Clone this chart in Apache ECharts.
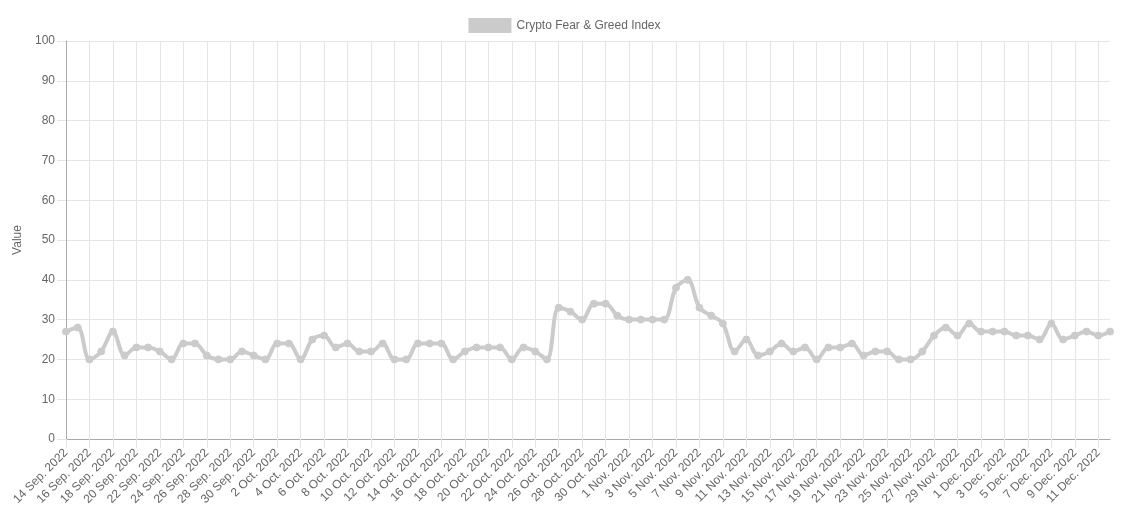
<!DOCTYPE html>
<html>
<head>
<meta charset="utf-8">
<script src="https://cdn.jsdelivr.net/npm/echarts@6/dist/echarts.min.js"></script>
<style>
  html, body { margin: 0; padding: 0; background: #fff; }
  #chart { width: 1129px; height: 521px; }
</style>
</head>
<body>
<div id="chart"></div>
<script>
// daily index values, 14 Sep. 2022 .. 12 Dec. 2022
var fearGreed = [
    27, 28, 20, 22, 27, 21, 23, 23, 22, 20,
    24, 24, 21, 20, 20, 22, 21, 20, 24, 24,
    20, 25, 26, 23, 24, 22, 22, 24, 20, 20,
    24, 24, 24, 20, 22, 23, 23, 23, 20, 23,
    22, 20, 33, 32, 30, 34, 34, 31, 30, 30,
    30, 30, 38, 40, 33, 31, 29, 22, 25, 21,
    22, 24, 22, 23, 20, 23, 23, 24, 21, 22,
    22, 20, 20, 22, 26, 28, 26, 29, 27, 27,
    27, 26, 26, 25, 29, 25, 26, 27, 26, 27
];
var monthNames = ['Jan.', 'Feb.', 'Mar.', 'Apr.', 'May', 'Jun.', 'Jul.', 'Aug.', 'Sep.', 'Oct.', 'Nov.', 'Dec.'];
var days = [];
var d = new Date(2022, 8, 14);
for (var i = 0; i < fearGreed.length; i++) {
    days.push(d.getDate() + ' ' + monthNames[d.getMonth()] + ' ' + d.getFullYear());
    d.setDate(d.getDate() + 1);
}
var lineColor = '#cbcbcb';
var textColor = '#666';
var fontName = 'Liberation Sans';

var chart = echarts.init(document.getElementById('chart'));
var option = {
    animation: false,
    textStyle: { fontFamily: fontName },
    legend: {
        top: 13,
        left: 'center',
        icon: 'rect',
        itemWidth: 43,
        itemHeight: 15,
        itemGap: 10,
        textStyle: { color: textColor, fontSize: 12, fontFamily: fontName },
        data: ['Crypto Fear & Greed Index']
    },
    grid: { left: 66, right: 19, top: 41, bottom: 82, containLabel: false },
    xAxis: {
        type: 'category',
        boundaryGap: false,
        data: days,
        axisLine: { lineStyle: { color: '#aaa' } },
        axisTick: { show: true, interval: 1, length: 9, lineStyle: { color: '#e5e5e5' } },
        axisLabel: {
            interval: 1,
            rotate: 45,
            margin: 12,
            color: textColor,
            fontSize: 12,
            fontFamily: fontName
        },
        splitLine: { show: true, interval: 1, lineStyle: { color: '#e5e5e5' } }
    },
    yAxis: {
        type: 'value',
        min: 0,
        max: 100,
        interval: 10,
        name: 'Value',
        nameLocation: 'middle',
        nameRotate: 90,
        nameGap: 42,
        nameTextStyle: { color: textColor, fontSize: 12, fontFamily: fontName },
        axisLine: { show: true, lineStyle: { color: '#aaa' } },
        axisTick: { show: true, length: 9, lineStyle: { color: '#e5e5e5' } },
        axisLabel: { color: textColor, fontSize: 12, margin: 11, fontFamily: fontName },
        splitLine: { show: true, lineStyle: { color: '#e5e5e5' } }
    },
    series: [
        {
            name: 'Crypto Fear & Greed Index',
            type: 'line',
            data: fearGreed,
            smooth: 0.35,
            symbol: 'circle',
            symbolSize: 7,
            showAllSymbol: true,
            lineStyle: { color: lineColor, width: 4 },
            itemStyle: { color: lineColor, borderColor: lineColor }
        }
    ]
};
chart.setOption(option);
</script>
</body>
</html>
